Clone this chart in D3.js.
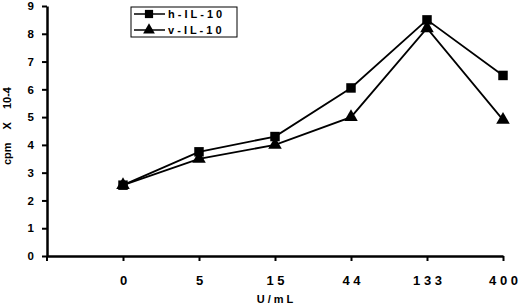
<!DOCTYPE html>
<html>
<head>
<meta charset="utf-8">
<script src="https://cdn.jsdelivr.net/npm/d3@7"></script>
<style>
  body { margin: 0; background: #fff; }
  text { font-family: "Liberation Sans", Arial, sans-serif; font-weight: bold; fill: #000; }
</style>
</head>
<body>
<div id="chart"></div>
<script>
// doses on the x axis (categorical, evenly spaced)
const doses = ["0", "5", "15", "44", "133", "400"];
// proliferation, cpm x 10-4
const hIL10 = [2.55, 3.75, 4.3, 6.05, 8.5, 6.5];
const vIL10 = [2.55, 3.5, 4.0, 5.0, 8.2, 4.9];
const yTicks = [0, 1, 2, 3, 4, 5, 6, 7, 8, 9];

const width = 520, height = 306;
const margin = { top: 6, right: 17, bottom: 50, left: 47 };

const svg = d3.select("#chart").append("svg")
    .attr("width", width)
    .attr("height", height);

// position 0 is the y axis, categories sit at 1..6
const x = d3.scaleLinear()
    .domain([0, doses.length])
    .range([margin.left, width - margin.right]);

const y = d3.scaleLinear()
    .domain([0, 9])
    .range([height - margin.bottom, margin.top]);

// x axis
const xAxis = svg.append("g")
    .attr("transform", `translate(0,${y(0)})`)
    .call(d3.axisBottom(x)
        .tickValues(d3.range(1, doses.length + 1))
        .tickFormat((d) => doses[d - 1].split("").join(" "))
        .tickSize(5)
        .tickSizeOuter(0)
        .tickPadding(15));
xAxis.select(".domain").attr("stroke-width", 2.5);
xAxis.selectAll(".tick line").attr("stroke-width", 2);
xAxis.selectAll(".tick text").attr("font-size", 13).style("font-weight", "bold");

// y axis
const yAxis = svg.append("g")
    .attr("transform", `translate(${margin.left},0)`)
    .call(d3.axisLeft(y)
        .tickValues(yTicks)
        .tickSize(5)
        .tickSizeOuter(0)
        .tickPadding(8));
yAxis.select(".domain").attr("stroke-width", 2.5);
yAxis.selectAll(".tick line").attr("stroke-width", 2);
yAxis.selectAll(".tick text").attr("font-size", 11.5).style("font-weight", "bold");

// small tick below the corner
svg.append("line")
    .attr("x1", margin.left).attr("x2", margin.left)
    .attr("y1", y(0)).attr("y2", y(0) + 5)
    .attr("stroke", "#000").attr("stroke-width", 2);

// axis titles
svg.append("text")
    .attr("x", x(doses.length / 2))
    .attr("y", height - 3)
    .attr("text-anchor", "middle")
    .attr("font-size", 11)
    .text("U / m L");

const yTitle = svg.append("text")
    .attr("transform", "translate(11,126) rotate(-90)")
    .attr("text-anchor", "middle")
    .attr("font-size", 11);
yTitle.append("tspan").text("cpm");
yTitle.append("tspan").attr("dx", 13).text("X");
yTitle.append("tspan").attr("dx", 13).text("10-4");

const line = d3.line()
    .x((d, i) => x(i + 1))
    .y((d) => y(d));

const series = [
    { name: "h - I L - 1 0", values: hIL10, symbol: d3.symbolSquare, size: 90 },
    { name: "v - I L - 1 0", values: vIL10, symbol: d3.symbolTriangle, size: 80 },
];

// draw triangles first so squares sit on top at dose 0
for (const s of series.slice().reverse()) {
    svg.append("path")
        .attr("d", line(s.values))
        .attr("fill", "none")
        .attr("stroke", "#000")
        .attr("stroke-width", 1.8);
    svg.append("g")
        .selectAll("path")
        .data(s.values)
        .join("path")
        .attr("transform", (d, i) => `translate(${x(i + 1)},${y(d)})`)
        .attr("d", d3.symbol(s.symbol, s.size))
        .attr("fill", "#000");
}

// legend
const legend = svg.append("g").attr("transform", "translate(131,7)");
legend.append("rect")
    .attr("width", 106).attr("height", 30)
    .attr("fill", "#fff").attr("stroke", "#000").attr("stroke-width", 1);
series.forEach((s, i) => {
    const row = legend.append("g").attr("transform", `translate(0,${7 + i * 16})`);
    row.append("line")
        .attr("x1", 3).attr("x2", 34)
        .attr("stroke", "#000").attr("stroke-width", 1.5);
    row.append("path")
        .attr("transform", "translate(18,0)")
        .attr("d", d3.symbol(s.symbol, s.size * 0.75))
        .attr("fill", "#000");
    row.append("text")
        .attr("x", 37).attr("y", 4)
        .attr("font-size", 11)
        .text(s.name);
});
</script>
</body>
</html>
